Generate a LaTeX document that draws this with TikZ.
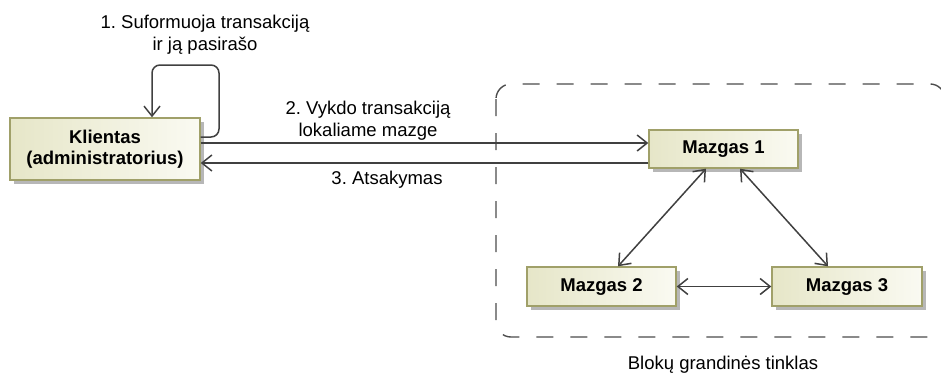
\documentclass[tikz,border=0pt]{standalone}
\usepackage{fontspec}
\setmainfont{Liberation Sans}
\usetikzlibrary{arrows.meta,shadows,calc}
\definecolor{boxline}{RGB}{160,160,105}
\definecolor{boxleft}{RGB}{230,230,200}
\definecolor{boxright}{RGB}{250,250,242}
\definecolor{lnk}{RGB}{64,64,64}
\frenchspacing
\begin{document}
\begin{tikzpicture}[x=1pt,y=-1pt,
  blk/.style={draw=boxline, line width=1.4pt, left color=boxleft, right color=boxright,
    font=\fontsize{18.5}{21}\selectfont\bfseries, align=center, inner sep=0pt,
    drop shadow={shadow xshift=4pt, shadow yshift=-4pt, fill=black!40, opacity=0.7}},
  arr/.style={draw=lnk, line width=1.5pt, -{Straight Barb[length=10pt,width=16pt,line width=1.5pt]}},
  darr/.style={draw=lnk, line width=1.5pt, {Straight Barb[length=10pt,width=16pt,line width=1.5pt]}-{Straight Barb[length=10pt,width=16pt,line width=1.5pt]}},
  lbl/.style={font=\fontsize{18.5}{22}\selectfont\frenchspacing, align=center, text=black},
  grp/.style={draw=black!70, line width=1.4pt, dash pattern=on 17pt off 17pt, rounded corners=15pt}]
\useasboundingbox (0,0) rectangle (941,372);
% group frame
\draw[grp] (496,84) rectangle (945,337);
\node[lbl] (gl) at (723,365) {Blokų grandinės tinklas};
% nodes
\node[blk, minimum width=190pt, minimum height=62pt] (kl) at (105,149) {Klientas\\(administratorius)};
\node[blk, minimum width=149pt, minimum height=38pt] (m1) at (723.5,149) {Mazgas 1};
\node[blk, minimum width=149pt, minimum height=39pt] (m2) at (601.5,286.5) {Mazgas 2};
\node[blk, minimum width=150pt, minimum height=39pt] (m3) at (847,286.5) {Mazgas 3};
% helper coordinates
\coordinate (ly) at (0,137);
\coordinate (lc) at (219,65);
\coordinate (lx) at (152,0);
\coordinate (y2) at (0,143);
\coordinate (y3) at (0,163);
% self loop
\draw[arr, rounded corners=8pt] (kl.east |- ly) -| (lc) -| (kl.north -| lx);
\node[lbl] (l1) at (205,35) {1. Suformuoja transakciją\\ir ją pasirašo};
% request / response
\draw[arr] (kl.east |- y2) -- (m1.west |- y2);
\draw[arr] (m1.west |- y3) -- (kl.east |- y3);
\node[lbl] (l2) at (368,121) {2. Vykdo transakciją\\lokaliame mazge};
\node[lbl] (l3) at (387,180) {3. Atsakymas};
% network links
\coordinate (a1) at (706,168);
\coordinate (a2) at (618,267);
\coordinate (b1) at (740,168);
\coordinate (b2) at (828,267);
\draw[darr] (m1.south -| a1) -- (m2.north -| a2);
\draw[darr] (m1.south -| b1) -- (m3.north -| b2);
\draw[darr] (m2.east) -- (m3.west);
\end{tikzpicture}
\end{document}
